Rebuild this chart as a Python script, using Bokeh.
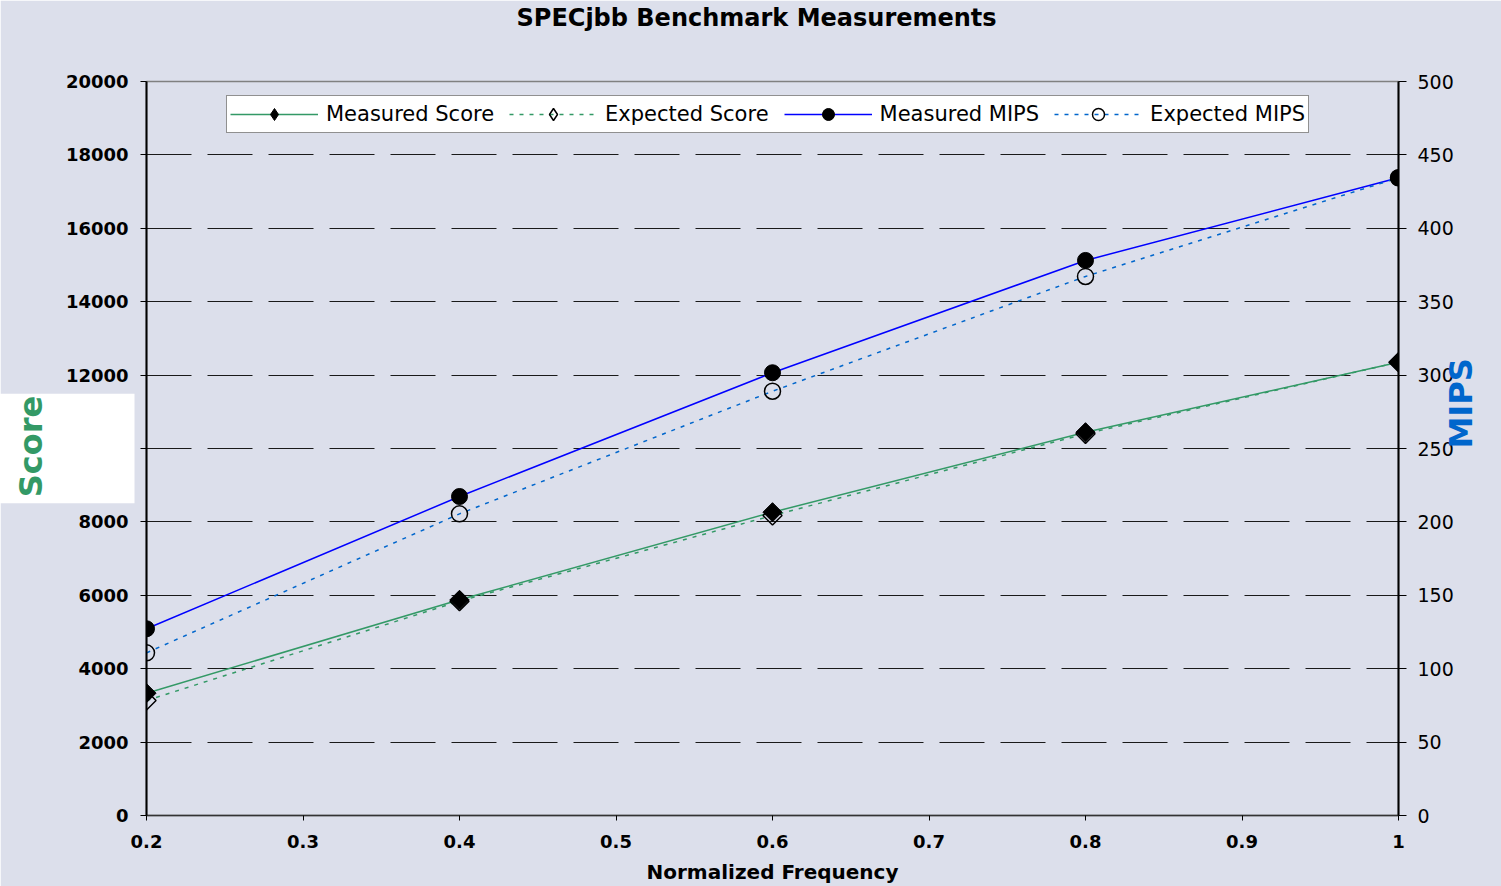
import math
from bokeh.plotting import figure
from bokeh.models import (Range1d, LinearAxis, FixedTicker, Legend, LegendItem,
                          CustomJSTickFormatter, Title)
from bokeh.embed import file_html
from bokeh.resources import INLINE

freq = [0.2, 0.4, 0.6, 0.8, 1.0]
measured_score = [3333, 5877, 8264, 10444, 12351]
expected_score = [3134, 5840, 8174, 10400, 12351]
measured_mips = [127.2, 217.3, 301.6, 378.1, 434.4]
expected_mips = [110.8, 205.5, 289.0, 367.2, 434.4]

x_ticks = [0.2, 0.3, 0.4, 0.5, 0.6, 0.7, 0.8, 0.9, 1.0]
score_ticks = [0, 2000, 4000, 6000, 8000, 10000, 12000, 14000, 16000, 18000, 20000]
mips_ticks = [0, 50, 100, 150, 200, 250, 300, 350, 400, 450, 500]
grid_ticks = [2000, 4000, 6000, 8000, 10000, 12000, 14000, 16000, 18000]
series_names = ["Measured Score", "Expected Score", "Measured MIPS", "Expected MIPS"]

BG = "#dcdfeb"
GREEN = "#339966"
BLUE = "#0000ff"
LBLUE = "#0066cc"
FONT = "DejaVu Sans"
NAN = float("nan")

fig_kw = dict(width=1501, height=886, output_backend="svg", toolbar_location=None,
              x_range=Range1d(0.2, 1.0), y_range=Range1d(0, 20000),
              background_fill_color=BG, border_fill_color=BG,
              min_border_left=146, min_border_right=103, min_border_top=81,
              min_border_bottom=71, x_axis_location=None, y_axis_location=None)
try:
    p = figure(title=None, **fig_kw)
except Exception:
    p = figure(**fig_kw)
p.extra_y_ranges = {"mips": Range1d(0, 500)}
p.outline_line_color = "#808080"
p.outline_line_width = 1.5

# invisible spacer keeps the title near the top edge
spacer = Title(text=".", text_font=FONT, text_font_size="20px", text_color=BG,
               standoff=34)
p.add_layout(spacer, "above")
main_title = Title(text="SPECjbb Benchmark Measurements", align="left", offset=370,
                   vertical_align="bottom", standoff=0, text_font=FONT,
                   text_font_style="bold", text_font_size="24px", text_color="black")
p.add_layout(main_title, "above")

# axes
xax = LinearAxis(ticker=FixedTicker(ticks=x_ticks),
                 formatter=CustomJSTickFormatter(code="return tick.toFixed(1).replace(/\\.0$/, '');"),
                 axis_label="Normalized Frequency")
xax.axis_line_color = "#333333"
xax.axis_line_width = 1.5
xax.major_tick_out = 5
xax.major_tick_in = 0
xax.minor_tick_line_color = None
xax.major_label_standoff = 14
xax.major_label_text_font = FONT
xax.major_label_text_font_style = "bold"
xax.major_label_text_font_size = "18px"
xax.major_label_text_color = "black"
xax.axis_label_text_font = FONT
xax.axis_label_text_font_style = "bold"
xax.axis_label_text_font_size = "20px"
xax.axis_label_standoff = 9
xax.axis_label_text_color = "black"
p.add_layout(xax, "below")

lax = LinearAxis(ticker=FixedTicker(ticks=score_ticks))
lax.axis_line_color = "black"
lax.axis_line_width = 2
lax.major_tick_out = 6
lax.major_tick_in = 0
lax.minor_tick_line_color = None
lax.major_label_standoff = 12
lax.major_label_text_font = FONT
lax.major_label_text_font_style = "bold"
lax.major_label_text_font_size = "18px"
lax.major_label_text_color = "black"
p.add_layout(lax, "left")

# "Score" caption on a white box, laid out in the left panel
score_title = Title(text="Score", align="center", vertical_align="middle", standoff=0,
                    text_font=FONT, text_font_style="bold", text_font_size="32px",
                    text_color=GREEN, background_fill_color="white",
                    background_fill_alpha=1.0)
for pad in (dict(left=6, right=2, top=69, bottom=85), (6, 2, 69, 85), 5):
    try:
        score_title.padding = pad
        break
    except Exception:
        pass
p.add_layout(score_title, "left")

rax = LinearAxis(y_range_name="mips", ticker=FixedTicker(ticks=mips_ticks),
                 axis_label="MIPS")
rax.axis_line_color = "black"
rax.axis_line_width = 2
rax.major_tick_out = 8
rax.major_tick_in = 0
rax.minor_tick_line_color = None
rax.major_label_standoff = 11
rax.major_label_text_font = FONT
rax.major_label_text_font_size = "19px"
rax.major_label_text_color = "black"
rax.axis_label_text_font = FONT
rax.axis_label_text_font_style = "bold"
rax.axis_label_text_font_size = "32px"
rax.axis_label_text_color = LBLUE
rax.axis_label_standoff = 4
rax.axis_label_orientation = math.pi / 2
p.add_layout(rax, "right")

p.xgrid.visible = False
p.ygrid.ticker = FixedTicker(ticks=grid_ticks)
p.ygrid.grid_line_color = "#1a1a1a"
p.ygrid.grid_line_width = 1
p.ygrid.grid_line_dash = "45 16"

# series lines
r_ms_l = p.line(freq, measured_score, line_color=GREEN, line_width=1.5)
r_es_l = p.line(freq, expected_score, line_color=GREEN, line_width=1.5, line_dash="4 6")
r_mm_l = p.line(freq, measured_mips, line_color=BLUE, line_width=1.5, y_range_name="mips")
r_em_l = p.line(freq, expected_mips, line_color=LBLUE, line_width=1.5, line_dash="4 6",
                y_range_name="mips")

# series markers (diamonds drawn as rotated squares)
p.scatter(freq, expected_score, marker="square", size=13.5, angle=math.pi / 4,
          fill_color=None, line_color="black", line_width=1.5)
p.scatter(freq, measured_score, marker="square", size=13.5, angle=math.pi / 4,
          fill_color="black", line_color="black")
r_em_m = p.scatter(freq, expected_mips, marker="circle", size=16, fill_color=None,
                   line_color="black", line_width=1.5, y_range_name="mips")
r_mm_m = p.scatter(freq, measured_mips, marker="circle", size=16, fill_color="black",
                   line_color="black", y_range_name="mips")

# legend-only diamond markers
lg_ms = p.scatter([NAN], [NAN], marker="diamond", fill_color="black", line_color="black")
lg_es = p.scatter([NAN], [NAN], marker="diamond", fill_color=None, line_color="black",
                  line_width=1.5)

legend = Legend(items=[
    LegendItem(label=series_names[0], renderers=[r_ms_l, lg_ms]),
    LegendItem(label=series_names[1], renderers=[r_es_l, lg_es]),
    LegendItem(label=series_names[2], renderers=[r_mm_l, r_mm_m]),
    LegendItem(label=series_names[3], renderers=[r_em_l, r_em_m]),
], orientation="horizontal", location=(80, 682))
legend.label_text_font = FONT
legend.label_text_font_size = "21px"
legend.label_text_color = "black"
legend.glyph_width = 88
legend.glyph_height = 30
legend.label_standoff = 8
legend.spacing = 15
legend.padding = 3
legend.margin = 0
legend.border_line_color = "#222222"
legend.border_line_width = 1
legend.background_fill_color = "white"
legend.background_fill_alpha = 1
p.add_layout(legend)

open("out.html", "w").write(file_html(p, INLINE))
